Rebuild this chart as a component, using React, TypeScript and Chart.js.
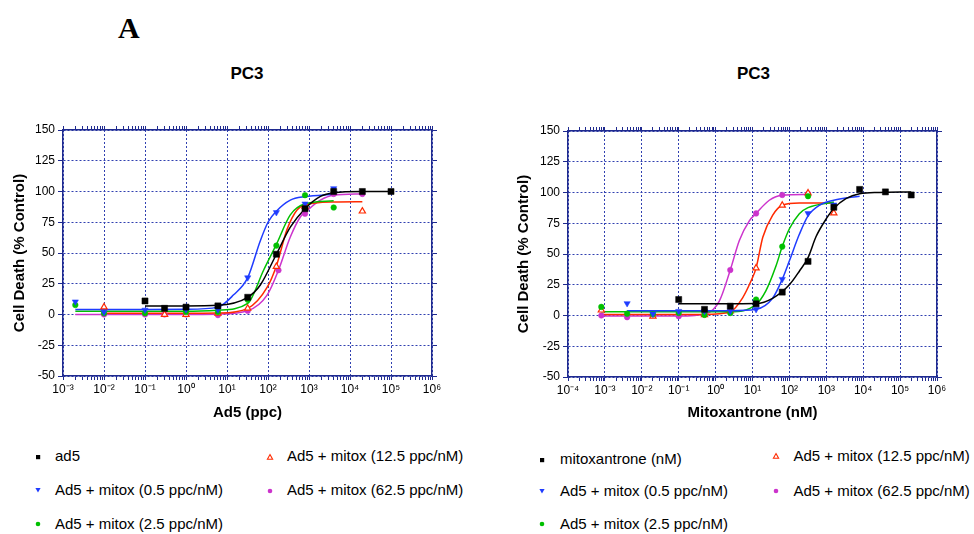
import React, { useEffect, useRef } from "react";
import { Chart, registerables } from "chart.js";
Chart.register(...registerables);

const FONT = 'Arial, "Liberation Sans", sans-serif';
const NAVY = "#1f2a8f";
const GRID = "#3040b0";

// ---------- Left panel: Ad5 dose (ppc) ----------
const leftTickLabels = ["10⁻³", "10⁻²", "10⁻¹", "10⁰", "10¹", "10²", "10³", "10⁴", "10⁵", "10⁶"];
const leftMinExp = -3;
const leftMaxExp = 6;

const ad5Dose = [0.1, 0.3, 1, 6, 32, 160, 800, 4000, 20000, 100000];
const ad5Death = [11, 5, 6, 7, 14, 49, 86, 100, 100, 100];
const ad5FitDose = [0.1, 1, 6, 32, 65, 160, 350, 800, 1900, 4000, 20000, 100000];
const ad5FitDeath = [7, 7, 7.5, 14, 24, 49, 71, 86, 96, 99, 100, 100];

const lMix05Dose = [0.002, 0.01, 0.1, 1, 6, 32, 160, 800, 4000];
const lMix05Death = [10.4, 2, 3.7, 4, 4, 30, 83, 90, 102.5];
const lMix05FitDose = [0.002, 0.1, 1, 6, 14.5, 32, 65, 100, 160, 350, 800, 4000];
const lMix05FitDeath = [4, 4, 4.2, 6, 16, 30, 60, 75, 84, 93, 95.8, 97.7];

const lMix25Dose = [0.002, 0.01, 0.1, 1, 6, 32, 160, 800, 4000];
const lMix25Death = [7.7, 1, 1, 2, 2, 12, 56, 97, 87];
const lMix25FitDose = [0.002, 1, 6, 32, 78, 160, 350, 800, 4000];
const lMix25FitDeath = [2.7, 2.7, 3.5, 9, 36, 57, 81, 90, 92.5];

const lMix125Dose = [0.01, 0.3, 1, 6, 32, 160, 800, 20000];
const lMix125Death = [6, 0, 0, 1, 5, 39, 88, 84];
const lMix125FitDose = [0.01, 1, 6, 32, 95, 160, 290, 510, 800, 4000, 20000];
const lMix125FitDeath = [1, 1, 1.2, 5, 22, 39.5, 69, 85, 89, 91.5, 91.7];

const lMix625Dose = [0.01, 0.1, 0.3, 1, 6, 32, 180, 800, 4000, 20000];
const lMix625Death = [0, 0, 0, 0, -0.5, 3, 36, 82, 98, 98];
const lMix625FitDose = [0.002, 1, 6, 32, 95, 180, 350, 620, 800, 1900, 4000, 20000];
const lMix625FitDeath = [0, 0, 0.3, 3, 15.7, 36, 63, 79.5, 83, 93, 97, 98];

// ---------- Right panel: Mitoxantrone (nM) ----------
const rightTickLabels = ["10⁻⁴", "10⁻³", "10⁻²", "10⁻¹", "10⁰", "10¹", "10²", "10³", "10⁴", "10⁵", "10⁶"];
const rightMinExp = -4;
const rightMaxExp = 6;

const mitoxDose = [0.1, 0.5, 2.5, 12.5, 64, 320, 1600, 8000, 40000, 200000];
const mitoxDeath = [13, 5, 7.6, 9.5, 19, 44, 88, 102.5, 100.5, 98];
const mitoxFitDose = [0.1, 12.5, 35, 100, 186, 320, 525, 1000, 1600, 3400, 8000, 27000, 200000];
const mitoxFitDeath = [9.5, 9.8, 14, 25, 36, 47, 64, 78.7, 87, 95, 99, 100, 100.5];

const rMix05Dose = [0.004, 0.02, 0.1, 0.5, 2.5, 12.5, 64, 320, 1600];
const rMix05Death = [9.8, 1.3, 3.5, 3.5, 3.5, 5, 29.5, 83, 90];
const rMix05FitDose = [0.004, 2.5, 12.5, 35, 64, 100, 186, 320, 650, 1600, 8000];
const rMix05FitDeath = [3.8, 3.8, 5, 14, 29.5, 44.5, 66, 81, 89.6, 93.7, 97];

const rMix25Dose = [0.0008, 0.004, 0.02, 0.1, 0.5, 2.5, 12.5, 64, 320];
const rMix25Death = [7, 1.5, 1, 2, 0.5, 2, 13, 56, 97];
const rMix25FitDose = [0.0008, 2.5, 12.5, 23, 43, 64, 100, 186, 320, 1600];
const rMix25FitDeath = [3, 3, 9, 20, 40, 56, 70.5, 82.8, 87.7, 92.3];

const rMix125Dose = [0.0008, 0.02, 0.5, 2.5, 12.5, 64, 320, 1600];
const rMix125Death = [4.3, -0.6, 0.5, 3.5, 38.5, 89.6, 99.5, 83.3];
const rMix125FitDose = [0.0008, 0.5, 2.5, 5.4, 9.1, 12.5, 19, 35, 64, 186, 1600];
const rMix125FitDeath = [0.8, 0.8, 3, 14.4, 28, 38.5, 63.6, 81.4, 89.6, 91.5, 91.5];

const rMix625Dose = [0.0008, 0.004, 0.1, 0.5, 2.5, 12.5, 64, 320];
const rMix625Death = [0, -1.4, -0.6, 1, 37, 83, 98, 99];
const rMix625FitDose = [0.0008, 0.1, 0.55, 1.26, 2.5, 4.4, 8.2, 12.5, 28.5, 64, 320];
const rMix625FitDeath = [-0.5, -0.5, 1.5, 11.7, 37, 61, 77, 83, 93.7, 97.8, 98.4];

const yTickValues = [-50, -25, 0, 25, 50, 75, 100, 125, 150];

const BLACK = "#000000";
const BLUE = "#1f3cff";
const GREEN = "#00c000";
const RED = "#ff2a00";
const MAGENTA = "#cc33cc";

type Marker = "square" | "triDown" | "circle" | "triOpen" | "dot";
type Series = {
  label: string;
  color: string;
  marker: Marker;
  dose: number[];
  death: number[];
  fitDose: number[];
  fitDeath: number[];
};

const leftSeries: Series[] = [
  { label: "ad5", color: BLACK, marker: "square", dose: ad5Dose, death: ad5Death, fitDose: ad5FitDose, fitDeath: ad5FitDeath },
  { label: "Ad5 + mitox (0.5 ppc/nM)", color: BLUE, marker: "triDown", dose: lMix05Dose, death: lMix05Death, fitDose: lMix05FitDose, fitDeath: lMix05FitDeath },
  { label: "Ad5 + mitox (2.5 ppc/nM)", color: GREEN, marker: "circle", dose: lMix25Dose, death: lMix25Death, fitDose: lMix25FitDose, fitDeath: lMix25FitDeath },
  { label: "Ad5 + mitox (12.5 ppc/nM)", color: RED, marker: "triOpen", dose: lMix125Dose, death: lMix125Death, fitDose: lMix125FitDose, fitDeath: lMix125FitDeath },
  { label: "Ad5 + mitox (62.5 ppc/nM)", color: MAGENTA, marker: "dot", dose: lMix625Dose, death: lMix625Death, fitDose: lMix625FitDose, fitDeath: lMix625FitDeath },
];

const rightSeries: Series[] = [
  { label: "mitoxantrone (nM)", color: BLACK, marker: "square", dose: mitoxDose, death: mitoxDeath, fitDose: mitoxFitDose, fitDeath: mitoxFitDeath },
  { label: "Ad5 + mitox (0.5 ppc/nM)", color: BLUE, marker: "triDown", dose: rMix05Dose, death: rMix05Death, fitDose: rMix05FitDose, fitDeath: rMix05FitDeath },
  { label: "Ad5 + mitox (2.5 ppc/nM)", color: GREEN, marker: "circle", dose: rMix25Dose, death: rMix25Death, fitDose: rMix25FitDose, fitDeath: rMix25FitDeath },
  { label: "Ad5 + mitox (12.5 ppc/nM)", color: RED, marker: "triOpen", dose: rMix125Dose, death: rMix125Death, fitDose: rMix125FitDose, fitDeath: rMix125FitDeath },
  { label: "Ad5 + mitox (62.5 ppc/nM)", color: MAGENTA, marker: "dot", dose: rMix625Dose, death: rMix625Death, fitDose: rMix625FitDose, fitDeath: rMix625FitDeath },
];

function pairs(xs: number[], ys: number[]) {
  return xs.map((x, i) => ({ x, y: ys[i] }));
}

function isDecade(v: number) {
  const l = Math.log10(v);
  return Math.abs(l - Math.round(l)) < 1e-9;
}

function logTickValues(minExp: number, maxExp: number) {
  const out: number[] = [];
  for (let e = minExp; e < maxExp; e++) {
    for (let m = 1; m <= 9; m++) out.push(parseFloat((m * Math.pow(10, e)).toPrecision(6)));
  }
  out.push(Math.pow(10, maxExp));
  return out;
}

function pointProps(s: Series) {
  switch (s.marker) {
    case "square":
      return { pointStyle: "rect", pointRadius: 4.3, pointBackgroundColor: s.color, pointBorderColor: s.color, pointBorderWidth: 0.5, pointRotation: 0 };
    case "triDown":
      return { pointStyle: "triangle", pointRadius: 3.6, pointBackgroundColor: s.color, pointBorderColor: s.color, pointBorderWidth: 0.5, pointRotation: 180 };
    case "circle":
      return { pointStyle: "circle", pointRadius: 2.8, pointBackgroundColor: s.color, pointBorderColor: s.color, pointBorderWidth: 0.5, pointRotation: 0 };
    case "triOpen":
      return { pointStyle: "triangle", pointRadius: 3.6, pointBackgroundColor: "#ffffff", pointBorderColor: s.color, pointBorderWidth: 1.2, pointRotation: 0 };
    default:
      return { pointStyle: "circle", pointRadius: 2.8, pointBackgroundColor: s.color, pointBorderColor: s.color, pointBorderWidth: 0.5, pointRotation: 0 };
  }
}

type Geom = { yWidth: number; y2Width: number; xHeight: number; x2Height: number; padTop: number; yTitlePad: number; xTitlePad: number };

function buildConfig(series: Series[], minExp: number, maxExp: number, tickLabels: string[], xTitle: string, g: Geom): any {
  const xTicks = logTickValues(minExp, maxExp);
  const setXTicks = (scale: any) => {
    scale.ticks = xTicks.map((v) => ({ value: v, major: isDecade(v) }));
  };
  const setYTicks = (scale: any) => {
    scale.ticks = yTickValues.map((v) => ({ value: v }));
  };
  const datasets: any[] = [];
  series.forEach((s) => {
    datasets.push({
      label: s.label,
      data: pairs(s.dose, s.death),
      showLine: false,
      borderColor: s.color,
      ...pointProps(s),
    });
  });
  series.forEach((s) => {
    datasets.push({
      label: s.label + " fit",
      data: pairs(s.fitDose, s.fitDeath),
      showLine: true,
      pointRadius: 0,
      borderColor: s.color,
      borderWidth: 1.5,
      cubicInterpolationMode: "monotone",
      fill: false,
    });
  });
  const tickFont = { family: FONT, size: 12 };
  const titleFont = { family: FONT, size: 15, weight: "bold" };
  return {
    type: "line",
    data: { datasets },
    options: {
      responsive: false,
      animation: false,
      events: [],
      layout: { padding: { top: g.padTop, left: 0, right: 0, bottom: 0 } },
      plugins: { legend: { display: false }, tooltip: { enabled: false }, title: { display: false } },
      scales: {
        x: {
          type: "logarithmic",
          position: "bottom",
          min: Math.pow(10, minExp),
          max: Math.pow(10, maxExp),
          afterBuildTicks: setXTicks,
          afterFit: (s: any) => { s.height = g.xHeight; },
          ticks: {
            autoSkip: false,
            maxRotation: 0,
            minRotation: 0,
            padding: 2,
            color: "#000",
            font: tickFont,
            callback: (v: number) => (isDecade(v) ? tickLabels[Math.round(Math.log10(v)) - minExp] : ""),
          },
          grid: {
            color: (c: any) => (c.tick && c.tick.major ? GRID : "rgba(0,0,0,0)"),
            lineWidth: 1,
            tickLength: 4,
            tickColor: NAVY,
            tickWidth: 1,
          },
          border: { color: NAVY, width: 1.5, dash: [2, 2] },
          title: { display: true, text: xTitle, color: "#000", font: titleFont, padding: { top: 0, bottom: g.xTitlePad } },
        },
        x2: {
          type: "logarithmic",
          position: "top",
          min: Math.pow(10, minExp),
          max: Math.pow(10, maxExp),
          afterBuildTicks: setXTicks,
          afterFit: (s: any) => { s.height = g.x2Height; },
          ticks: { display: false, autoSkip: false },
          grid: { drawOnChartArea: false, tickLength: 4, tickColor: NAVY, tickWidth: 1 },
          border: { color: NAVY, width: 1.5 },
        },
        y: {
          type: "linear",
          position: "left",
          min: -50,
          max: 150,
          afterBuildTicks: setYTicks,
          afterFit: (s: any) => { s.width = g.yWidth; },
          ticks: { padding: 3, color: "#000", font: tickFont },
          grid: { color: GRID, lineWidth: 1, tickLength: 5, tickColor: NAVY, tickWidth: 1 },
          border: { color: NAVY, width: 1.5, dash: [2, 2] },
          title: { display: true, text: "Cell Death (% Control)", color: "#000", font: titleFont, padding: { top: g.yTitlePad, bottom: 0 } },
        },
        y2: {
          type: "linear",
          position: "right",
          min: -50,
          max: 150,
          afterBuildTicks: setYTicks,
          afterFit: (s: any) => { s.width = g.y2Width; },
          ticks: { display: false },
          grid: { drawOnChartArea: false, tickLength: 5, tickColor: NAVY, tickWidth: 1 },
          border: { color: NAVY, width: 1.5 },
        },
      },
    },
  };
}

function ChartPanel(props: { left: number; top: number; width: number; height: number; config: () => any }) {
  const ref = useRef<HTMLCanvasElement | null>(null);
  useEffect(() => {
    if (!ref.current) return;
    const chart = new Chart(ref.current, props.config());
    return () => chart.destroy();
  }, []);
  return (
    <canvas
      ref={ref}
      width={props.width}
      height={props.height}
      style={{ position: "absolute", left: props.left, top: props.top, width: props.width, height: props.height, display: "block" }}
    />
  );
}

function MarkerIcon({ marker, color }: { marker: Marker; color: string }) {
  let shape: any = null;
  if (marker === "square") shape = <rect x={2} y={2} width={4.2} height={4.2} fill={color} />;
  else if (marker === "triDown") shape = <polygon points="1.4,2 6.6,2 4,6.6" fill={color} />;
  else if (marker === "circle") shape = <circle cx={4} cy={4} r={2.3} fill={color} />;
  else if (marker === "triOpen") shape = <polygon points="4,1.6 6.6,6.2 1.4,6.2" fill="#fff" stroke={color} strokeWidth={1.1} />;
  else shape = <circle cx={4} cy={4} r={2.3} fill={color} />;
  return (
    <svg width={8} height={8} style={{ display: "block" }}>
      {shape}
    </svg>
  );
}

type LegendPos = { mx: number; tx: number; cy: number };
const leftLegendPos: LegendPos[] = [
  { mx: 38, tx: 55, cy: 456.5 },
  { mx: 38, tx: 55, cy: 490 },
  { mx: 38, tx: 55, cy: 524 },
  { mx: 270, tx: 287, cy: 456.5 },
  { mx: 270, tx: 287, cy: 490.5 },
];
const rightLegendPos: LegendPos[] = [
  { mx: 542, tx: 560, cy: 459.5 },
  { mx: 542, tx: 560, cy: 491 },
  { mx: 542, tx: 560, cy: 524 },
  { mx: 776, tx: 793.5, cy: 456 },
  { mx: 776, tx: 793.5, cy: 491 },
];

function Legend({ series, pos }: { series: Series[]; pos: LegendPos[] }) {
  return (
    <>
      {series.map((s, i) => (
        <React.Fragment key={i}>
          <div style={{ position: "absolute", left: pos[i].mx - 4, top: pos[i].cy - 4 }}>
            <MarkerIcon marker={s.marker} color={s.color} />
          </div>
          <div
            style={{
              position: "absolute",
              left: pos[i].tx,
              top: pos[i].cy - 9.2,
              fontFamily: FONT,
              fontSize: 15,
              lineHeight: "18px",
              color: "#000",
              whiteSpace: "nowrap",
            }}
          >
            {s.label}
          </div>
        </React.Fragment>
      ))}
    </>
  );
}

const leftGeom: Geom = { yWidth: 63, y2Width: 14, xHeight: 54, x2Height: 5, padTop: 25, yTitlePad: 11, xTitlePad: 8 };
const rightGeom: Geom = { yWidth: 68, y2Width: 14, xHeight: 54, x2Height: 5, padTop: 25, yTitlePad: 15, xTitlePad: 9 };

export default function App() {
  return (
    <div
      style={{
        position: "fixed",
        left: 0,
        top: 0,
        width: 974,
        height: 534,
        background: "#fff",
        overflow: "hidden",
      }}
    >
      <div
        style={{
          position: "absolute",
          left: 118,
          top: 12.7,
          fontFamily: '"Liberation Serif", "Times New Roman", serif',
          fontWeight: "bold",
          fontSize: 30,
          lineHeight: "30px",
          color: "#000",
        }}
      >
        A
      </div>
      <div style={{ position: "absolute", left: 147, width: 200, top: 64, textAlign: "center", fontFamily: FONT, fontWeight: "bold", fontSize: 17, lineHeight: "20px", color: "#000" }}>
        PC3
      </div>
      <div style={{ position: "absolute", left: 653.5, width: 200, top: 64, textAlign: "center", fontFamily: FONT, fontWeight: "bold", fontSize: 17, lineHeight: "20px", color: "#000" }}>
        PC3
      </div>
      <ChartPanel
        left={0}
        top={100}
        width={446}
        height={330}
        config={() => buildConfig(leftSeries, leftMinExp, leftMaxExp, leftTickLabels, "Ad5 (ppc)", leftGeom)}
      />
      <ChartPanel
        left={500}
        top={101}
        width={451}
        height={330}
        config={() => buildConfig(rightSeries, rightMinExp, rightMaxExp, rightTickLabels, "Mitoxantrone (nM)", rightGeom)}
      />
      <Legend series={leftSeries} pos={leftLegendPos} />
      <Legend series={rightSeries} pos={rightLegendPos} />
    </div>
  );
}
